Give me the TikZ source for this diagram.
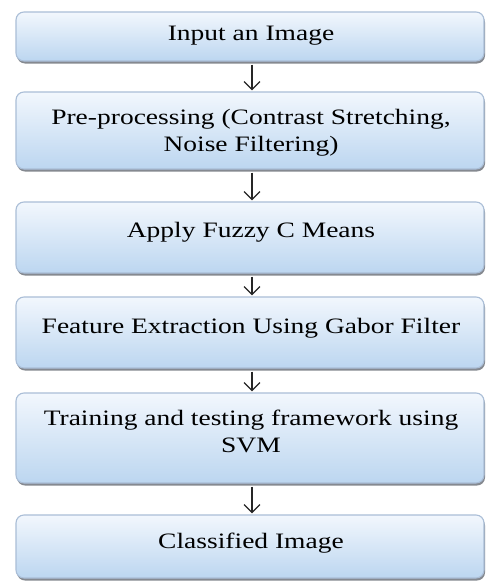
\documentclass[tikz,border=0pt]{standalone}
\usepackage{fontspec}
\setmainfont{Liberation Serif}[FakeStretch=1.25]
\usetikzlibrary{arrows.meta,shadows}
\definecolor{boxtop}{RGB}{242,247,253}
\definecolor{boxbot}{RGB}{188,214,240}
\definecolor{boxline}{RGB}{170,190,215}
\definecolor{shadowgray}{RGB}{120,125,132}
\tikzset{
  flowbox/.style={rectangle, rounded corners=8pt, draw=boxline, line width=1.1pt,
    top color=boxtop, bottom color=boxbot, minimum width=468pt, inner sep=0pt,
    drop shadow={shadow xshift=1pt, shadow yshift=-2.5pt, fill=shadowgray, opacity=0.9}},
  flowtxt/.style={font=\fontsize{22}{26.5}\selectfont, text=black, inner sep=0pt, align=center},
  flowarrow/.style={draw=black!85, line width=1.3pt, -{Straight Barb[length=8pt,width=16pt,line width=1.3pt]}}
}
\begin{document}
\begin{tikzpicture}[x=1pt,y=-1pt]
\useasboundingbox (0,0) rectangle (487,581);
\fill[white] (0,0) rectangle (487,581);
% boxes
\node[flowbox, minimum height=49pt] (b1) at (250,36.5) {};
\node[flowbox, minimum height=77pt] (b2) at (250,130.5) {};
\node[flowbox, minimum height=71pt] (b3) at (250,237.5) {};
\node[flowbox, minimum height=71pt] (b4) at (250,332.5) {};
\node[flowbox, minimum height=90pt] (b5) at (250,438) {};
\node[flowbox, minimum height=63pt] (b6) at (250,546.5) {};
% texts
\node[flowtxt, anchor=base] (t1) at (251,40) {Input an Image};
\node[flowtxt, anchor=base] (t2) at (251,151) {Pre-processing (Contrast Stretching,\\Noise Filtering)};
\node[flowtxt, anchor=base] (t3) at (251,237) {Apply Fuzzy C Means};
\node[flowtxt, anchor=base] (t4) at (251,333) {Feature Extraction Using Gabor Filter};
\node[flowtxt, anchor=base] (t5) at (251,452) {Training and testing framework using\\SVM};
\node[flowtxt, anchor=base] (t6) at (251,548) {Classified Image};
% arrows
\draw[flowarrow] ([xshift=2pt,yshift=-3pt]b1.south) -- ([xshift=2pt,yshift=1pt]b2.north);
\draw[flowarrow] ([xshift=2pt,yshift=-3pt]b2.south) -- ([xshift=2pt,yshift=1pt]b3.north);
\draw[flowarrow] ([xshift=2pt,yshift=-3pt]b3.south) -- ([xshift=2pt,yshift=1pt]b4.north);
\draw[flowarrow] ([xshift=2pt,yshift=-3pt]b4.south) -- ([xshift=2pt,yshift=1pt]b5.north);
\draw[flowarrow] ([xshift=2pt,yshift=-3pt]b5.south) -- ([xshift=2pt,yshift=1pt]b6.north);
\end{tikzpicture}
\end{document}
